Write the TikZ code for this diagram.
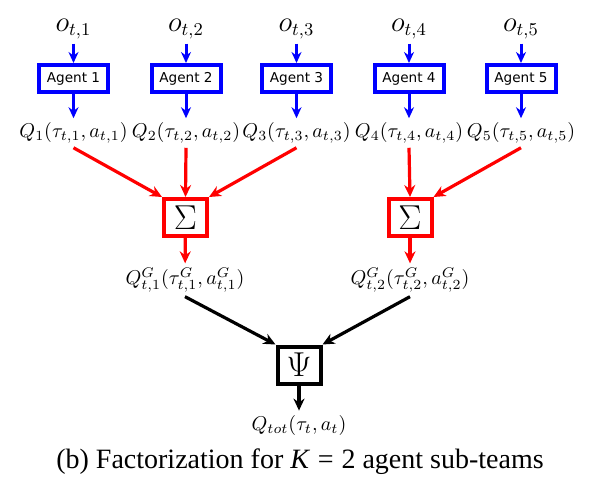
\documentclass[tikz,border=0pt]{standalone}
\usepackage{fontspec}
\usepackage{amsmath}
\usetikzlibrary{arrows.meta}
\usetikzlibrary{positioning}
\newfontfamily\agentfont{DejaVu Sans}
\newfontfamily\capfont{Liberation Serif}
\tikzset{
  agent/.style={draw=blue, line width=2pt, minimum width=34.5pt, minimum height=13.5pt, inner sep=0pt, font=\agentfont\fontsize{6.8}{8}\selectfont},
  mixer/.style={draw=#1, line width=2pt, minimum width=21.5pt, minimum height=18.5pt, inner sep=0pt, font=\fontsize{17.5}{20}\selectfont},
  obs/.style={inner sep=2pt, font=\fontsize{13.5}{16}\selectfont},
  qval/.style={inner sep=2pt, font=\fontsize{10.2}{12}\selectfont},
  blueedge/.style={-{Stealth[length=5.5pt,width=5pt]}, blue, line width=1.5pt},
  rededge/.style={-{Stealth[length=6pt,width=5.5pt]}, red, line width=1.6pt},
  blackedge/.style={-{Stealth[length=6pt,width=5.5pt]}, black, line width=1.6pt}
}
\begin{document}
\begin{tikzpicture}[x=0.5pt,y=-0.5pt]
        \useasboundingbox (0,0) rectangle (600,487);
        % observations
        \node[obs] (o1) at (73.5,29) {$o_{t,1}$};
        \node[obs] (o2) at (186,29) {$o_{t,2}$};
        \node[obs] (o3) at (296.5,29) {$o_{t,3}$};
        \node[obs] (o4) at (409,29) {$o_{t,4}$};
        \node[obs] (o5) at (521,29) {$o_{t,5}$};

        % agents
        \node[agent] (a1) at (73.5,78.5) {Agent 1};
        \node[agent] (a2) at (186,78.5) {Agent 2};
        \node[agent] (a3) at (296.5,78.5) {Agent 3};
        \node[agent] (a4) at (409,78.5) {Agent 4};
        \node[agent] (a5) at (521,78.5) {Agent 5};

        % individual utilities
        \node[qval] (q1) at (73.5,133) {$Q_1(\tau_{t,1},a_{t,1})$};
        \node[qval] (q2) at (186,133) {$Q_2(\tau_{t,2},a_{t,2})$};
        \node[qval] (q3) at (296.5,133) {$Q_3(\tau_{t,3},a_{t,3})$};
        \node[qval] (q4) at (409,133) {$Q_4(\tau_{t,4},a_{t,4})$};
        \node[qval] (q5) at (521,133) {$Q_5(\tau_{t,5},a_{t,5})$};

        % sub-team sums and mixer
        \node[mixer=red] (s1) at (185.5,217.5) {$\Sigma$};
        \node[mixer=red] (s2) at (410,217.5) {$\Sigma$};
        \node[qval] (g1) at (185,280) {$Q^G_{t,1}(\tau^G_{t,1},a^G_{t,1})$};
        \node[qval] (g2) at (410,280) {$Q^G_{t,2}(\tau^G_{t,2},a^G_{t,2})$};
        \node[mixer=black] (psi) at (299,365) {$\Psi$};
        \node[qval] (qtot) at (299,425) {$Q_{tot}(\tau_t,a_t)$};
        \node[font=\capfont\fontsize{14}{16}\selectfont] (cap) at (300,462) {(b) Factorization for \textit{K}\;=\;2 agent sub-teams};

        % edges
        \draw[blueedge] (o1) -- (a1);
        \draw[blueedge] (o2) -- (a2);
        \draw[blueedge] (o3) -- (a3);
        \draw[blueedge] (o4) -- (a4);
        \draw[blueedge] (o5) -- (a5);
        \draw[blueedge] (a1) -- (q1);
        \draw[blueedge] (a2) -- (q2);
        \draw[blueedge] (a3) -- (q3);
        \draw[blueedge] (a4) -- (q4);
        \draw[blueedge] (a5) -- (q5);
        \draw[rededge] (q1.south) -- (s1.north west);
        \draw[rededge] (q2.south) -- (s1.north);
        \draw[rededge] (q3.south) -- (s1.north east);
        \draw[rededge] (q4.south) -- (s2.north);
        \draw[rededge] (q5.south) -- (s2.north east);
        \draw[rededge] (s1) -- (g1);
        \draw[rededge] (s2) -- (g2);
        \draw[blackedge] (g1.south) -- (psi.north west);
        \draw[blackedge] (g2.south) -- (psi.north east);
        \draw[blackedge] (psi) -- (qtot);
\end{tikzpicture}
\end{document}
